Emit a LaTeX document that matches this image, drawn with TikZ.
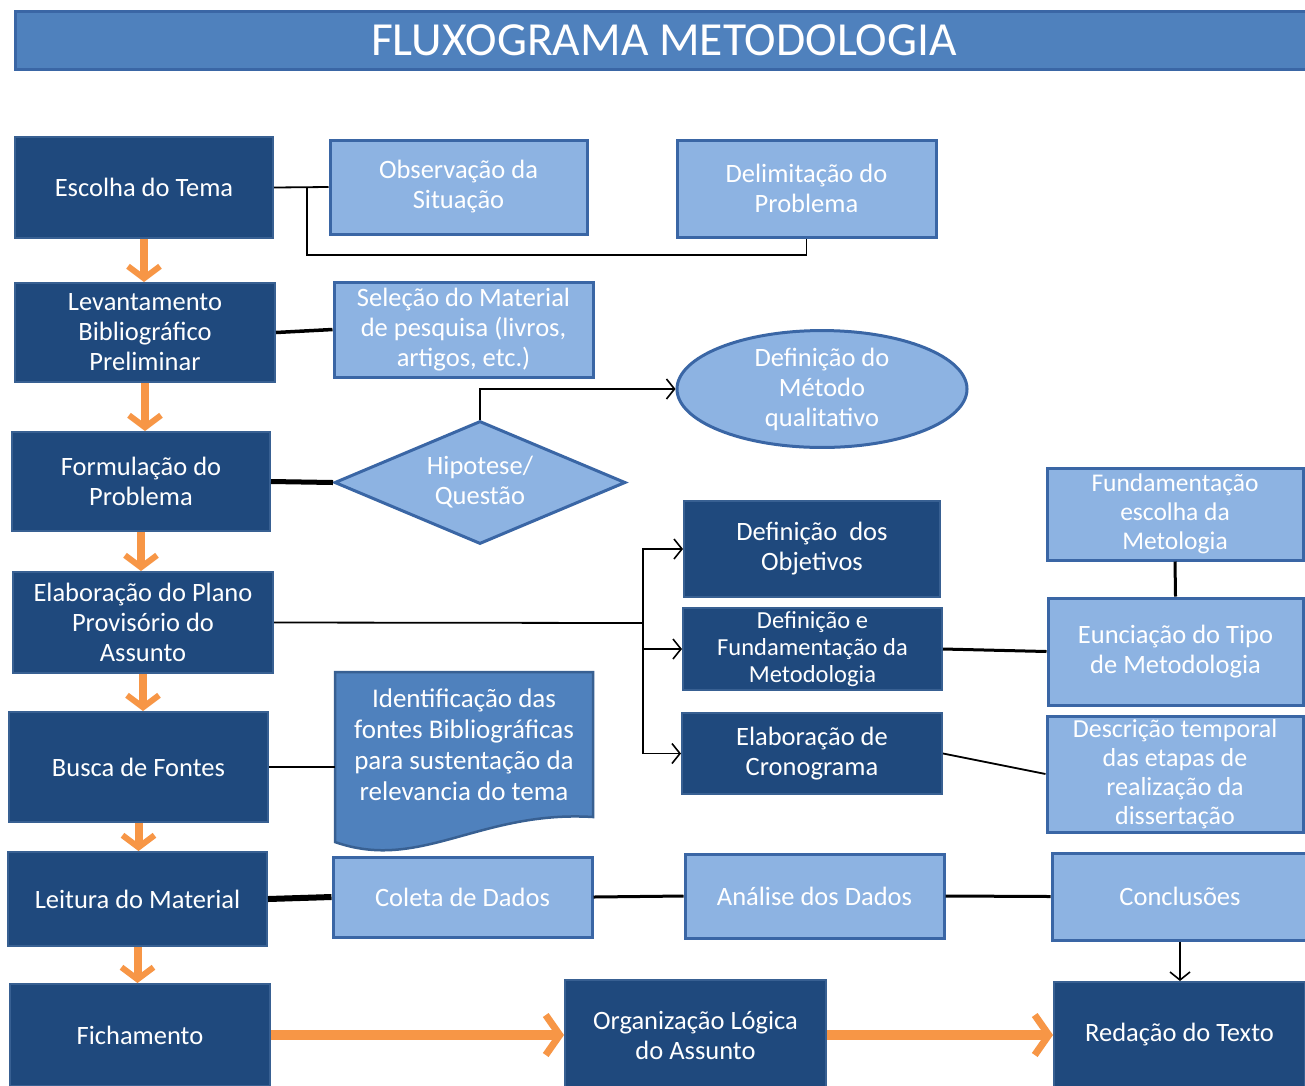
\documentclass[tikz,border=0pt]{standalone}
\usepackage{fontspec}
\setmainfont{Carlito}
\usetikzlibrary{shapes.geometric,arrows.meta}
\definecolor{azulesc}{RGB}{31,73,125}
\definecolor{azulbord}{RGB}{56,96,146}
\definecolor{azulcla}{RGB}{141,179,226}
\definecolor{azulmed}{RGB}{79,129,189}
\definecolor{azulcont}{RGB}{58,102,165}
\definecolor{laranja}{RGB}{247,150,70}
\begin{document}
\begin{tikzpicture}[x=1pt,y=-1pt,
  escura/.style={draw=azulbord,line width=2pt,fill=azulesc,text=white,align=center,inner sep=2pt,font=\fontsize{26.5}{30}\selectfont},
  clara/.style={draw=azulcont,line width=3pt,fill=azulcla,text=white,align=center,inner sep=2pt,font=\fontsize{26.5}{30}\selectfont},
  liga/.style={draw=black,line width=1.8pt},
  seta/.style={draw=black,line width=1.6pt,-{Straight Barb[length=8pt,width=20pt]}},
  laranjav/.style={draw=laranja,line width=8pt,-{Straight Barb[length=12pt,width=32pt,line width=6pt]}},
  laranjah/.style={draw=laranja,line width=10pt,-{Straight Barb[length=14pt,width=40pt,line width=7pt]}}]
\fill[white] (0,0) rectangle (1305,1085);
\useasboundingbox (0,0) rectangle (1305,1085);

\node[draw=azulcont,line width=3pt,fill=azulmed,text=white,minimum width=1298pt,minimum height=58pt,font=\fontsize{47.5}{54}\selectfont] (titulo) at (664,40) {FLUXOGRAMA METODOLOGIA};

% coluna da esquerda
\node[escura,minimum width=258pt,minimum height=101pt] (tema) at (144,187.5) {Escolha do Tema};
\node[escura,minimum width=260pt,minimum height=99pt] (levant) at (145,332.5) {Levantamento\\Bibliográfico\\Preliminar};
\node[escura,minimum width=258pt,minimum height=99pt] (formul) at (141,481.5) {Formulação do\\Problema};
\node[escura,minimum width=260pt,minimum height=101pt] (plano) at (143,622.5) {Elaboração do Plano\\Provisório do\\Assunto};
\node[escura,minimum width=259pt,minimum height=110pt] (busca) at (138.5,767) {Busca de Fontes};
\node[escura,minimum width=259pt,minimum height=94pt] (leitura) at (137.5,899) {Leitura do Material};
\node[escura,minimum width=260pt,minimum height=102pt] (ficha) at (140,1035) {Fichamento};

\foreach \a/\b in {tema/levant,levant/formul,formul/plano,plano/busca,busca/leitura,leitura/ficha}
  \draw[laranjav] (\a.south) -- (\a.south |- \b.north);

% caixas claras
\node[clara,minimum width=257pt,minimum height=94pt] (observ) at (458.5,187) {Observação da\\Situação};
\node[clara,minimum width=259pt,minimum height=97pt] (delim) at (806.5,188.5) {Delimitação do\\Problema};
\node[clara,minimum width=259pt,minimum height=95pt] (selecao) at (463.5,329.5) {Seleção do Material\\de pesquisa (livros,\\artigos, etc.)};
\node[clara,ellipse,inner sep=0,minimum width=290pt,minimum height=102pt] (metodo) at (822,389) {Definição do\\Método\\qualitativo};
\node[clara,diamond,inner sep=0,aspect=2.37,minimum width=291pt,minimum height=123pt] (hipotese) at (480,482.5) {Hipotese/\\Questão};

\draw[draw=azulbord,line width=2.5pt,fill=azulmed] (335,672) -- (593,672) -- (593,817) .. controls (480,810) and (420,872) .. (335,842) -- cycle;
\node[text=white,align=center,inner sep=0,minimum width=258pt,minimum height=146pt,font=\fontsize{27}{31}\selectfont] (fontesbib) at (464,745) {Identificação das\\fontes Bibliográficas\\para sustentação da\\relevancia do tema};

\node[escura,minimum width=256pt,minimum height=96pt] (objet) at (812,549) {Definição~ dos\\Objetivos};
\node[escura,minimum width=259pt,minimum height=82pt,font=\fontsize{24.5}{27}\selectfont] (metodol) at (812.5,649) {Definição e\\Fundamentação da\\Metodologia};
\node[escura,minimum width=260pt,minimum height=81pt] (crono) at (812,753.5) {Elaboração de\\Cronograma};

\node[clara,minimum width=256pt,minimum height=92pt,font=\fontsize{25.5}{29}\selectfont] (fundam) at (1175,514) {Fundamentação\\escolha da\\Metologia};
\node[clara,minimum width=255pt,minimum height=107pt] (enunc) at (1175.5,651.5) {Eunciação do Tipo\\de Metodologia};
\node[clara,minimum width=256pt,minimum height=116pt,font=\fontsize{26}{29}\selectfont] (descr) at (1175,774) {Descrição temporal\\das etapas de\\realização da\\dissertação};

\node[clara,minimum width=259pt,minimum height=80pt] (coleta) at (462.5,897) {Coleta de Dados};
\node[clara,minimum width=259pt,minimum height=84pt] (analise) at (814.5,896) {Análise dos Dados};
\node[clara,minimum width=256pt,minimum height=87pt] (concl) at (1180,896.5) {Conclusões};

\node[escura,minimum width=261pt,minimum height=110pt] (org) at (695.5,1035) {Organização Lógica\\do Assunto};
\node[escura,minimum width=251pt,minimum height=106pt] (redacao) at (1179.5,1035) {Redação do Texto};

% ligacoes
\coordinate (desvio) at (307,255);
\coordinate (tronco) at (643,623);
\draw[liga] (tema.east) -- (observ.west);
\draw[liga] (tema.east) -| (desvio) -| (delim.south);
\draw[liga,line width=3.5pt] (levant.east) -- (selecao.west);
\draw[liga,line width=5pt] (formul.east) -- (hipotese.west);
\draw[seta] (hipotese.north) |- (metodo.west);
\draw[liga] (plano.east) -- (tronco);
\foreach \n in {objet,metodol,crono} \draw[seta] (tronco) |- (\n.west);
\draw[liga,line width=3pt] (metodol.east) -- (enunc.west);
\draw[liga,line width=3pt] (fundam.south) -- (enunc.north);
\draw[liga] (crono.east) -- (descr.west);
\draw[liga,line width=2.5pt] (busca.east) -- (busca.east -| fontesbib.west);
\draw[liga,line width=6pt] (leitura.east) -- (coleta.west);
\draw[liga,line width=3pt] (coleta.east) -- (analise.west);
\draw[liga,line width=3pt] (analise.east) -- (concl.west);
\draw[seta] (concl.south) -- (concl.south |- redacao.north);
\draw[laranjah] (ficha.east) -- (org.west);
\draw[laranjah] (org.east) -- (redacao.west);
\end{tikzpicture}
\end{document}
